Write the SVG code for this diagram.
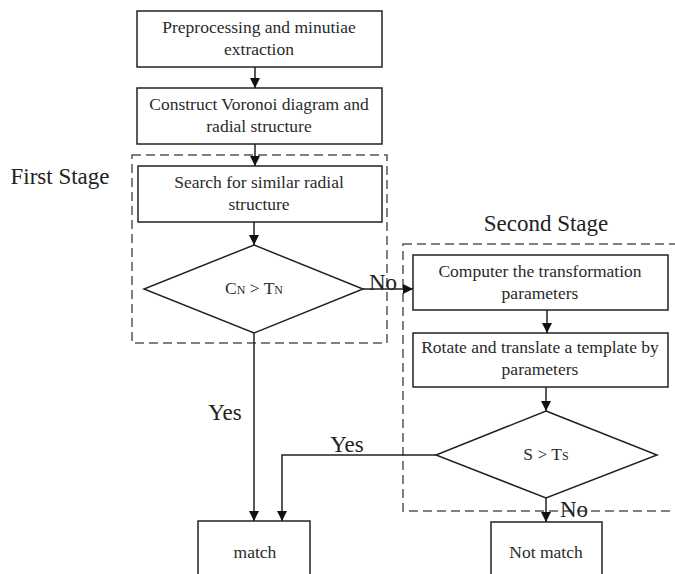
<svg xmlns="http://www.w3.org/2000/svg" width="675" height="574" viewBox="0 0 675 574">
  <style>
    .box { fill: #fff; stroke: #222; stroke-width: 1.5; }
    .dash { fill: none; stroke: #555; stroke-width: 1.5; stroke-dasharray: 9 5; }
    .line { fill: none; stroke: #222; stroke-width: 1.5; }
    .t { font-family: "Liberation Serif", "Times New Roman", serif; fill: #2a2a2a; text-anchor: middle; }
    .node { font-size: 17.5px; }
    .lbl { font-size: 23px; fill: #222; }
  </style>
  <defs>
    <marker id="arrow" viewBox="0 0 10 10" refX="10" refY="5" markerWidth="10" markerHeight="10" markerUnits="userSpaceOnUse" orient="auto">
      <path d="M0,0 L10,5 L0,10 Z" fill="#111"/>
    </marker>
  </defs>

  <rect width="675" height="574" fill="#fff"/>

  <!-- stage frames -->
  <g id="stages">
    <rect class="dash" x="132" y="155" width="255" height="188"/>
    <text class="t lbl" x="60" y="184">First Stage</text>
    <rect class="dash" x="403" y="244" width="280" height="267"/>
    <text class="t lbl" x="546" y="231">Second Stage</text>
  </g>

  <g id="preprocess">
    <rect class="box" x="137" y="11" width="245" height="56"/>
    <text class="t node" x="259" y="33">Preprocessing and minutiae</text>
    <text class="t node" x="259" y="55">extraction</text>
  </g>

  <g id="voronoi">
    <rect class="box" x="137" y="88" width="245" height="56"/>
    <text class="t node" x="259" y="110">Construct Voronoi diagram and</text>
    <text class="t node" x="259" y="132">radial structure</text>
  </g>

  <g id="search">
    <rect class="box" x="138" y="166" width="244" height="56"/>
    <text class="t node" x="259" y="188">Search for similar radial</text>
    <text class="t node" x="259" y="210">structure</text>
  </g>

  <g id="decision1">
    <polygon class="box" points="254,245 363,289 254,333 144,289"/>
    <text class="t" x="254" y="294" font-size="17.5">C<tspan font-size="12">N</tspan> &gt; T<tspan font-size="12">N</tspan></text>
  </g>

  <g id="transform">
    <rect class="box" x="413" y="255" width="255" height="55"/>
    <text class="t node" x="540" y="277">Computer the transformation</text>
    <text class="t node" x="540" y="299">parameters</text>
  </g>

  <g id="rotate">
    <rect class="box" x="413" y="333" width="255" height="54"/>
    <text class="t node" x="540" y="353">Rotate and translate a template by</text>
    <text class="t node" x="540" y="375">parameters</text>
  </g>

  <g id="decision2">
    <polygon class="box" points="546,411 657,455 546,498 436,455"/>
    <text class="t" x="546" y="460" font-size="17.5">S &gt; T<tspan font-size="12">S</tspan></text>
  </g>

  <g id="match">
    <polyline class="box" points="198,580 198,521 310,521 310,580"/>
    <text class="t node" x="255" y="558">match</text>
  </g>

  <g id="not-match">
    <polyline class="box" points="491,580 491,522 602,522 602,580"/>
    <text class="t node" x="546" y="558">Not match</text>
  </g>

  <!-- connectors -->
  <g id="connectors">
    <line class="line" x1="255" y1="67" x2="255" y2="88" marker-end="url(#arrow)"/>
    <line class="line" x1="255" y1="144" x2="255" y2="166" marker-end="url(#arrow)"/>
    <line class="line" x1="254" y1="222" x2="254" y2="245" marker-end="url(#arrow)"/>
    <line class="line" x1="363" y1="289" x2="413" y2="289" marker-end="url(#arrow)"/>
    <text class="t lbl" x="383" y="290">No</text>
    <line class="line" x1="254" y1="333" x2="254" y2="521" marker-end="url(#arrow)"/>
    <text class="t lbl" x="225" y="420">Yes</text>
    <line class="line" x1="547" y1="310" x2="547" y2="333" marker-end="url(#arrow)"/>
    <line class="line" x1="546" y1="387" x2="546" y2="411" marker-end="url(#arrow)"/>
    <polyline class="line" points="436,455 282,455 282,521" marker-end="url(#arrow)"/>
    <text class="t lbl" x="347" y="452">Yes</text>
    <line class="line" x1="546" y1="498" x2="546" y2="522" marker-end="url(#arrow)"/>
    <text class="t lbl" x="574" y="517">No</text>
  </g>
</svg>
